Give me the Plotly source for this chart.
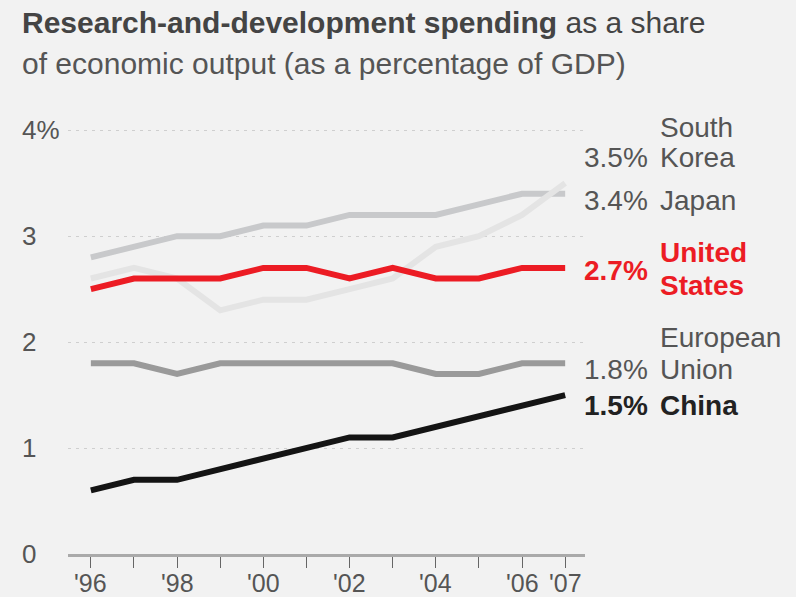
import plotly.graph_objects as go

# R&D spending as a share of GDP, 1996-2007
years = list(range(1996, 2008))
japan = [2.8, 2.9, 3.0, 3.0, 3.1, 3.1, 3.2, 3.2, 3.2, 3.3, 3.4, 3.4]
south_korea = [2.6, 2.7, 2.6, 2.3, 2.4, 2.4, 2.5, 2.6, 2.9, 3.0, 3.2, 3.5]
united_states = [2.5, 2.6, 2.6, 2.6, 2.7, 2.7, 2.6, 2.7, 2.6, 2.6, 2.7, 2.7]
european_union = [1.8, 1.8, 1.7, 1.8, 1.8, 1.8, 1.8, 1.8, 1.7, 1.7, 1.8, 1.8]
china = [0.6, 0.7, 0.7, 0.8, 0.9, 1.0, 1.1, 1.1, 1.2, 1.3, 1.4, 1.5]

x_tick_text = ["'96", "", "'98", "", "'00", "", "'02", "", "'04", "", "'06", "'07"]
y_tick_vals = [0, 1, 2, 3, 4]
y_tick_text = ["0", "1", "2", "3", "4%"]

FONT = "Liberation Sans, Arial, sans-serif"
GRAY_TEXT = "#555555"
RED = "#ec1c24"
BG = "#f2f2f2"

series = [
    ("Japan", japan, "#c8c9cb"),
    ("South Korea", south_korea, "#e4e4e4"),
    ("European Union", european_union, "#9a9a9a"),
    ("United States", united_states, RED),
    ("China", china, "#141414"),
]

fig = go.Figure()
for name, vals, color in series:
    fig.add_trace(go.Scatter(
        x=years, y=vals, name=name, mode="lines",
        line=dict(color=color, width=6),
        hoverinfo="x+y+name",
    ))

annotations = []

# y tick labels, left aligned at the chart edge
for v, t in zip(y_tick_vals, y_tick_text):
    annotations.append(dict(
        x=0, xref="paper", xshift=-48, xanchor="left",
        y=v, yref="y", yanchor="middle",
        text=t, showarrow=False,
        font=dict(family=FONT, size=26, color=GRAY_TEXT),
    ))

# x tick labels, set just under the tick marks
for yr, t in zip(years, x_tick_text):
    if not t:
        continue
    annotations.append(dict(
        x=yr, xref="x", xanchor="center",
        y=-0.066, yref="paper", yanchor="middle",
        text=t, showarrow=False,
        font=dict(family=FONT, size=25, color=GRAY_TEXT),
    ))

# Title (two lines)
annotations.append(dict(
    x=0, xref="paper", xshift=-48, xanchor="left",
    y=(554 - 22) / 445, yref="paper", yanchor="middle",
    text="<b>Research-and-development spending</b> as a share",
    showarrow=False,
    font=dict(family=FONT, size=30, color="#444444"),
))
annotations.append(dict(
    x=0, xref="paper", xshift=-48, xanchor="left",
    y=(554 - 63) / 445, yref="paper", yanchor="middle",
    text="of economic output (as a percentage of GDP)",
    showarrow=False,
    font=dict(family=FONT, size=30, color="#555555"),
))


def label(text, y, anchor, color, bold=False):
    if bold:
        text = f"<b>{text}</b>"
    annotations.append(dict(
        x=1, xref="paper",
        xshift=65 if anchor == "right" else 73,
        xanchor=anchor,
        y=y, yref="y", yanchor="middle",
        text=text, showarrow=False,
        font=dict(family=FONT, size=28, color=color),
    ))


def pct(vals):
    return f"{vals[-1]:.1f}%"


# End-of-line labels
label("South", 4.03, "left", GRAY_TEXT)
label(pct(south_korea), 3.745, "right", GRAY_TEXT)
label("Korea", 3.745, "left", GRAY_TEXT)
label(pct(japan), 3.34, "right", GRAY_TEXT)
label("Japan", 3.34, "left", GRAY_TEXT)
label("United", 2.85, "left", RED, bold=True)
label(pct(united_states), 2.68, "right", RED, bold=True)
label("States", 2.53, "left", RED, bold=True)
label("European", 2.04, "left", GRAY_TEXT)
label(pct(european_union), 1.745, "right", GRAY_TEXT)
label("Union", 1.745, "left", GRAY_TEXT)
label(pct(china), 1.405, "right", "#222222", bold=True)
label("China", 1.405, "left", "#222222", bold=True)

fig.update_layout(
    width=796, height=597,
    margin=dict(l=68, r=211, t=109, b=43),
    paper_bgcolor=BG, plot_bgcolor=BG,
    showlegend=False,
    annotations=annotations,
    xaxis=dict(
        range=[1995.47, 2007.46],
        tickmode="array", tickvals=years, showticklabels=False,
        ticks="outside", ticklen=11, tickwidth=1, tickcolor="#666666",
        showline=True, linecolor="#aaaaaa", linewidth=3,
        showgrid=False, zeroline=False, automargin=False,
        fixedrange=True,
    ),
    yaxis=dict(
        range=[0, 4.2],
        tickvals=y_tick_vals, showticklabels=False,
        showgrid=True, gridcolor="#cfcfcf", gridwidth=1, griddash="3px,5px",
        zeroline=False, showline=False, automargin=False,
        fixedrange=True,
    ),
)

fig.write_html("out.html")
